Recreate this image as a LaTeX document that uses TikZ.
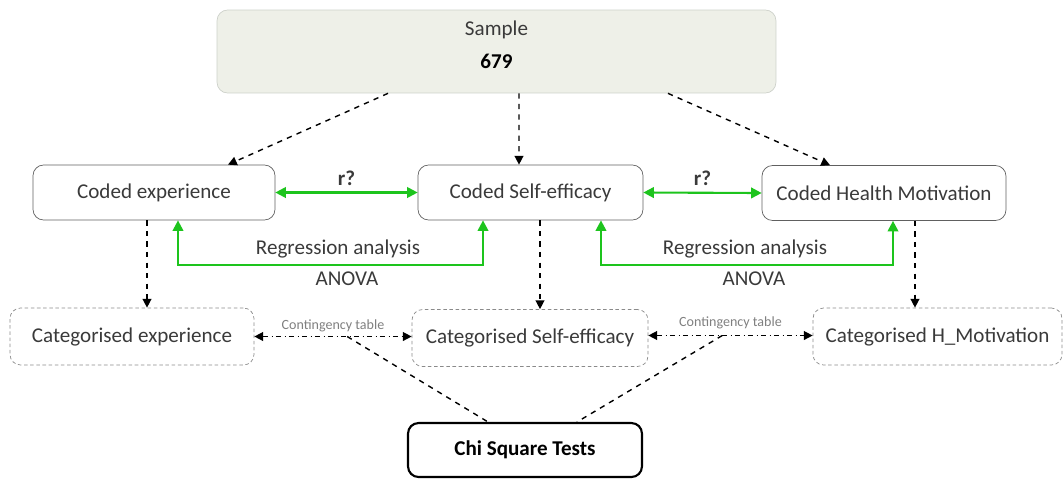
\documentclass[tikz,border=0pt]{standalone}
\usepackage{fontspec}
\setmainfont{Carlito}
\usetikzlibrary{arrows.meta}
\definecolor{samplefill}{HTML}{EEF0E8}
\definecolor{sampleline}{HTML}{CDD1CA}
\definecolor{boxline}{HTML}{606060}
\definecolor{catline}{HTML}{8A8A8A}
\definecolor{txtgray}{HTML}{3A3A3A}
\definecolor{linkgreen}{HTML}{1DC41D}

\begin{document}
\begin{tikzpicture}[x=0.02cm, y=-0.02cm,
        box/.style={draw=boxline, rounded corners=6pt, minimum height=1.1cm,
            inner sep=0pt, text=txtgray, font={\fontsize{12pt}{14pt}\selectfont}},
        catbox/.style={box, draw=catline, dash pattern=on 2pt off 1.5pt},
        feed/.style={dashed, thick, -{Triangle[length=5pt, width=5pt]}},
        corr/.style={draw=linkgreen, line width=1.2pt,
            {Triangle[length=6pt, width=6pt]}-{Triangle[length=6pt, width=6pt]}},
        cont/.style={dash dot, thick,
            {Triangle[length=5pt, width=5pt]}-{Triangle[length=5pt, width=5pt]}},
        lbl/.style={text=txtgray, font={\fontsize{12pt}{14pt}\selectfont}},
        small/.style={text=gray, font={\fontsize{8pt}{9pt}\selectfont}}
    ]
    \useasboundingbox (0,0) rectangle (1063,478);

    % sample on top
    \node[box, draw=sampleline, fill=samplefill, minimum width=11.18cm,
        minimum height=1.66cm, align=center] (smp) at (496.5,51.5)
        {Sample\\[5pt]\textbf{\textcolor{black}{679}}\\[-6pt]\mbox{}};

    % coded variables
    \node[box, minimum width=4.84cm] (ce) at (154,192.5) {Coded experience};
    \node[box, minimum width=4.5cm]  (cs) at (530.5,192.5) {Coded Self-efficacy};
    \node[box, minimum width=4.88cm] (ch) at (884,193) {Coded Health Motivation};

    % categorised variables
    \node[catbox, minimum width=4.88cm, minimum height=1.14cm] (ke) at (132,336.5) {Categorised experience};
    \node[catbox, minimum width=4.72cm, minimum height=1.14cm] (ks) at (530,338) {Categorised Self-efficacy};
    \node[catbox, minimum width=4.98cm, minimum height=1.14cm] (kh) at (937.5,336.5) {Categorised H\_Motivation};

    % test
    \node[box, draw=black, line width=1.2pt, minimum width=4.68cm,
        minimum height=1.08cm, text=black] (chi) at (525,450) {\textbf{Chi Square Tests}};

    % sample to coded
    \draw[feed] ([xshift=-2.17cm]smp.south) -- ([xshift=1.48cm]ce.north);
    \draw[feed] ([xshift=0.45cm]smp.south) -- ([xshift=-0.23cm]cs.north);
    \draw[feed] ([xshift=3.43cm]smp.south) -- ([xshift=-1.08cm]ch.north);

    % correlations
    \draw[corr] (ce.east) -- (cs.west) node[midway, above, text=black, lbl] {\textbf{r?}};
    \draw[corr] (cs.east) -- (ch.west) node[midway, above, text=black, lbl] {\textbf{r?}};

    % regression / anova
    \draw[corr] ([xshift=0.48cm]ce.south) -- ++(0,45)
        -| node[pos=0.25, above, lbl, xshift=0.15cm] {Regression analysis}
           node[pos=0.25, below, lbl, xshift=0.33cm] {ANOVA}
        ([xshift=-0.95cm]cs.south);
    \draw[corr] ([xshift=1.41cm]cs.south) -- ++(0,45)
        -| node[pos=0.25, above, lbl, xshift=-0.04cm] {Regression analysis}
           node[pos=0.25, below, lbl, xshift=0.14cm] {ANOVA}
        ([xshift=0.18cm]ch.south);

    % coded to categorised
    \coordinate (ceb) at ([xshift=-0.14cm]ce.south);
    \coordinate (csb) at ([xshift=0.19cm]cs.south);
    \coordinate (chb) at ([xshift=0.62cm]ch.south);
    \draw[feed] (ceb) -- (ceb |- ke.north);
    \draw[feed] (csb) -- (csb |- ks.north);
    \draw[feed] (chb) -- (chb |- kh.north);

    % contingency tables
    \draw[cont] (ke.east) -- (ke.east -| ks.west)
        coordinate[pos=0.59] (m1) node[midway, above, small, yshift=-1pt] {Contingency table};
    \draw[cont] ([yshift=0.05cm]ks.east) -- ([yshift=0.05cm]ks.east -| kh.west)
        coordinate[pos=0.45] (m2) node[midway, above, small, yshift=0pt] {Contingency table};

    % chi square links
    \draw[dashed, thick] (m1) -- ([xshift=-0.74cm]chi.north);
    \draw[dashed, thick] (m2) -- ([xshift=1.04cm]chi.north);
\end{tikzpicture}
\end{document}
